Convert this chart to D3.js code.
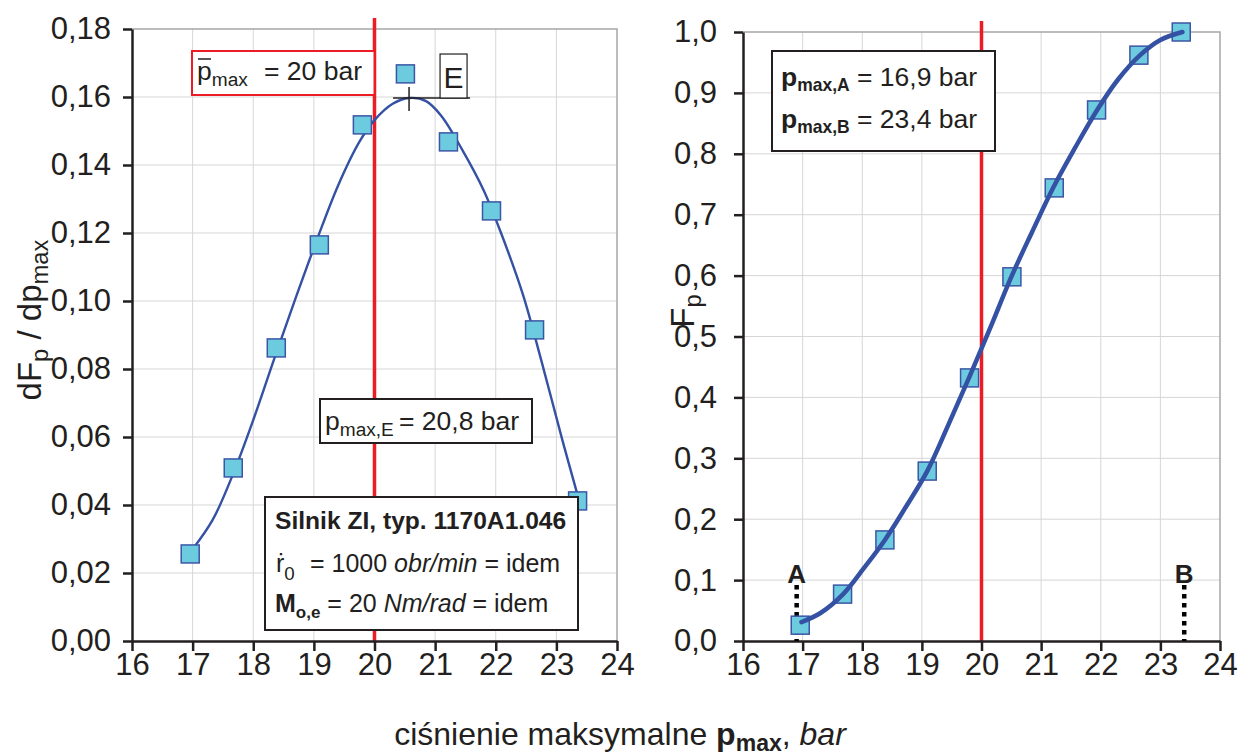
<!DOCTYPE html>
<html>
<head>
<meta charset="utf-8">
<script src="https://cdnjs.cloudflare.com/ajax/libs/d3/7.8.5/d3.min.js"></script>
<style>
  html, body { margin: 0; padding: 0; background: #fff; }
  svg { display: block; font-family: "Liberation Sans", Arial, sans-serif; }
</style>
</head>
<body>
<svg id="chart" width="1239" height="756"></svg>
<script>
// Measured pressure classes (bar), shared by both panels
const pressure = [16.96, 17.67, 18.38, 19.09, 19.8, 20.51, 21.22, 21.93, 22.64, 23.35];

// Left panel: probability density dFp/dpmax
const density = [0.0256, 0.0509, 0.0862, 0.1165, 0.1518, 0.1668, 0.1468, 0.1265, 0.0915, 0.0412];
const densityFitP = [17.0, 17.33, 17.66, 18.0, 18.35, 18.7, 19.05, 19.4, 19.75, 20.0, 20.3, 20.57, 20.85, 21.1, 21.45, 21.8, 22.1, 22.45, 22.75, 23.1, 23.35];
const densityFitV = [0.027, 0.0356, 0.0488, 0.065, 0.0832, 0.1009, 0.118, 0.134, 0.1468, 0.1532, 0.158, 0.1597, 0.1588, 0.1545, 0.1444, 0.1326, 0.1194, 0.1018, 0.0826, 0.059, 0.0429];

// Right panel: cumulative distribution Fp
const cumulative = [0.026, 0.077, 0.166, 0.279, 0.432, 0.598, 0.744, 0.872, 0.962, 1.0];
const cumulativeFitP = [16.98, 17.3, 17.68, 18.03, 18.38, 18.73, 19.09, 19.44, 19.79, 20.15, 20.5, 20.85, 21.2, 21.57, 21.94, 22.29, 22.66, 23.0, 23.37];
const cumulativeFitV = [0.031, 0.046, 0.077, 0.12, 0.166, 0.22, 0.279, 0.354, 0.432, 0.515, 0.598, 0.672, 0.744, 0.81, 0.872, 0.922, 0.962, 0.987, 1.0];

// Tick values
const xTicks = [16, 17, 18, 19, 20, 21, 22, 23, 24];
const yTicksLeft = [0, 0.02, 0.04, 0.06, 0.08, 0.10, 0.12, 0.14, 0.16, 0.18];
const yTicksRight = [0, 0.1, 0.2, 0.3, 0.4, 0.5, 0.6, 0.7, 0.8, 0.9, 1.0];

// Reference values
const pMean = 20;      // mean maximum pressure
const pA = 16.9;       // lower limit
const pB = 23.4;       // upper limit

const svg = d3.select("#chart");
const FONT_TICK = 31;
const FONT_NOTE = 26.5;
const INK = "#231f20";

const comma = fmt => v => d3.format(fmt)(v).replace(".", ",");

// rich text helper: parts = [{t, sub, bold, italic}]
function rich(g, x, y, parts, size, anchor, subScale, subShift) {
  const ss = subScale || 0.68, sh = subShift || 0.28;
  const t = g.append("text").attr("x", x).attr("y", y)
    .attr("font-size", size).attr("fill", INK)
    .attr("text-anchor", anchor || "start");
  let off = 0;
  parts.forEach(p => {
    const target = p.sub ? size * sh : 0;
    const s = t.append("tspan").text(p.t)
      .attr("dy", target - off)
      .attr("font-size", p.sub ? size * ss : size);
    if (p.bold) s.attr("font-weight", "bold");
    if (p.italic) s.attr("font-style", "italic");
    off = target;
  });
  return t;
}

function panel(opts) {
  const { x, y, yTicks, yFmt, yPad } = opts;
  const g = svg.append("g");

  // grid
  g.append("g").selectAll("line").data(xTicks.slice(1, -1)).join("line")
    .attr("x1", d => x(d)).attr("x2", d => x(d))
    .attr("y1", y.range()[0]).attr("y2", y.range()[1])
    .attr("stroke", "#d6d6d6").attr("stroke-width", 1);
  g.append("g").selectAll("line").data(yTicks.slice(1, -1)).join("line")
    .attr("x1", x.range()[0]).attr("x2", x.range()[1])
    .attr("y1", d => y(d)).attr("y2", d => y(d))
    .attr("stroke", "#d6d6d6").attr("stroke-width", 1);
  // plot-area frame (top and right)
  g.append("path")
    .attr("d", `M${x.range()[0]},${y.range()[1]}H${x.range()[1]}V${y.range()[0]}`)
    .attr("fill", "none").attr("stroke", "#a6a6a6").attr("stroke-width", 1.5);

  // mean pressure line
  g.append("line")
    .attr("x1", x(pMean)).attr("x2", x(pMean))
    .attr("y1", y.range()[1] - 11).attr("y2", y.range()[0])
    .attr("stroke", "#ed1c24").attr("stroke-width", 3.5);

  // axes
  const ax = g.append("g").attr("transform", `translate(0,${y.range()[0]})`)
    .call(d3.axisBottom(x).tickValues(xTicks).tickSize(10).tickSizeOuter(0).tickPadding(2).tickFormat(d3.format("d")));
  const ay = g.append("g").attr("transform", `translate(${x.range()[0]},0)`)
    .call(d3.axisLeft(y).tickValues(yTicks).tickSize(9).tickSizeOuter(0).tickPadding(yPad).tickFormat(comma(yFmt)));
  [ax, ay].forEach(a => {
    a.select(".domain").attr("stroke", INK).attr("stroke-width", 2.5);
    a.selectAll(".tick line").attr("stroke", INK).attr("stroke-width", 2.5);
    a.selectAll("text").attr("font-size", FONT_TICK).attr("fill", INK)
      .attr("font-family", "Liberation Sans, Arial, sans-serif");
  });
  ax.selectAll("text").attr("dy", "0.72em");
  return g;
}

function markers(g, x, y, vals) {
  const s = 18;
  g.append("g").selectAll("rect").data(pressure.map((p, i) => [p, vals[i]])).join("rect")
    .attr("x", d => x(d[0]) - s / 2).attr("y", d => y(d[1]) - s / 2)
    .attr("width", s).attr("height", s)
    .attr("fill", "#6ccbde").attr("stroke", "#3b56a6").attr("stroke-width", 1.5);
}

// ---------- left panel ----------
const xL = d3.scaleLinear().domain([16, 24]).range([132, 617]);
const yL = d3.scaleLinear().domain([0, 0.18]).range([641, 29]);
const gL = panel({ x: xL, y: yL, yTicks: yTicksLeft, yFmt: ".2f", yPad: 12 });

const fitL = densityFitP.map((p, i) => [p, densityFitV[i]]);
gL.append("path").datum(fitL)
  .attr("d", d3.line().x(d => xL(d[0])).y(d => yL(d[1])).curve(d3.curveCatmullRom))
  .attr("fill", "none").attr("stroke", "#3451a3").attr("stroke-width", 2.4);
markers(gL, xL, yL, density);

// mean value box (red)
gL.append("rect").attr("x", 192).attr("y", 51).attr("width", xL(pMean) - 192).attr("height", 44)
  .attr("fill", "#fff").attr("stroke", "#ed1c24").attr("stroke-width", 2);
rich(gL, 197, 80, [{ t: "p" }, { t: "max", sub: true }], FONT_NOTE, "start", 0.72, 0.22);
gL.append("text").attr("x", 264).attr("y", 80).attr("font-size", FONT_NOTE).attr("fill", INK)
  .text("= 20 bar");
gL.append("line").attr("x1", 198).attr("x2", 211).attr("y1", 59).attr("y2", 59)
  .attr("stroke", INK).attr("stroke-width", 1.5);

// peak E of the fitted density
const peak = fitL.reduce((a, b) => (b[1] > a[1] ? b : a));
const ex = xL(peak[0]), ey = yL(peak[1]);
gL.append("line").attr("x1", ex - 16).attr("x2", ex + 61).attr("y1", ey).attr("y2", ey)
  .attr("stroke", INK).attr("stroke-width", 1.5);
gL.append("line").attr("x1", ex).attr("x2", ex).attr("y1", ey - 11).attr("y2", ey + 13)
  .attr("stroke", INK).attr("stroke-width", 1.5);
gL.append("rect").attr("x", ex + 31).attr("y", ey - 44).attr("width", 27).attr("height", 44)
  .attr("fill", "#fff").attr("stroke", INK).attr("stroke-width", 1.2);
gL.append("text").attr("x", ex + 44.5).attr("y", ey - 10).attr("text-anchor", "middle")
  .attr("font-size", 30).attr("fill", INK).text("E");

// pmax,E box
gL.append("rect").attr("x", 320).attr("y", 399).attr("width", 212).attr("height", 44)
  .attr("fill", "#fff").attr("stroke", INK).attr("stroke-width", 2);
rich(gL, 325, 430, [{ t: "p" }, { t: "max,E", sub: true }], FONT_NOTE, "start", 0.72, 0.22);
gL.append("text").attr("x", 399).attr("y", 430).attr("font-size", FONT_NOTE).attr("fill", INK)
  .text("= 20,8 bar");

// engine description box
gL.append("rect").attr("x", 265).attr("y", 497).attr("width", 313).attr("height", 133)
  .attr("fill", "#fff").attr("stroke", INK).attr("stroke-width", 2);
rich(gL, 275, 529, [{ t: "Silnik ZI, typ. 1170A1.046", bold: true }], 24.6);
rich(gL, 276, 572, [{ t: "\u1E59" }, { t: "0", sub: true }], 25, "start", 0.75, 0.3);
gL.append("text").attr("x", 310).attr("y", 572).attr("font-size", 25).attr("fill", INK)
  .call(t => {
    t.append("tspan").text("= 1000 ");
    t.append("tspan").attr("font-style", "italic").text("obr/min");
    t.append("tspan").text(" = idem");
  });
rich(gL, 275, 612, [{ t: "M", bold: true }, { t: "o,e", sub: true, bold: true }, { t: " = 20 " }, { t: "Nm/rad", italic: true }, { t: " = idem" }], 25, "start", 0.68, 0.25);

// y title
rich(svg, 0, 0, [{ t: "dF" }, { t: "p", sub: true }, { t: " / dp" }, { t: "max", sub: true }], 33, "middle", 0.72, 0.22)
  .attr("transform", "translate(41,320) rotate(-90)");

// ---------- right panel ----------
const xR = d3.scaleLinear().domain([16, 24]).range([743, 1220]);
const yR = d3.scaleLinear().domain([0, 1]).range([641, 32]);
const gR = panel({ x: xR, y: yR, yTicks: yTicksRight, yFmt: ".1f", yPad: 17 });

// limits A and B
[[pA, "A"], [pB, "B"]].forEach(([p, name]) => {
  gR.append("line").attr("x1", xR(p)).attr("x2", xR(p))
    .attr("y1", yR(0.092)).attr("y2", yR(0))
    .attr("stroke", "#000").attr("stroke-width", 4.5).attr("stroke-dasharray", "4.5,4.5");
  gR.append("text").attr("x", xR(p)).attr("y", yR(0.095)).attr("text-anchor", "middle")
    .attr("font-size", 26).attr("font-weight", "bold").attr("fill", INK).text(name);
});

const fitR = cumulativeFitP.map((p, i) => [p, cumulativeFitV[i]]);
markers(gR, xR, yR, cumulative);
gR.append("path").datum(fitR)
  .attr("d", d3.line().x(d => xR(d[0])).y(d => yR(d[1])).curve(d3.curveCatmullRom))
  .attr("fill", "none").attr("stroke", "#3451a3").attr("stroke-width", 4.5)
  .attr("stroke-linecap", "round");

// limits box
gR.append("rect").attr("x", 772).attr("y", 51).attr("width", 223).attr("height", 100)
  .attr("fill", "#fff").attr("stroke", INK).attr("stroke-width", 2);
[["max,A", "= 16,9 bar", 86], ["max,B", "= 23,4 bar", 128]].forEach(([sub, val, yy]) => {
  rich(gR, 781, yy, [{ t: "p", bold: true }, { t: sub, sub: true, bold: true }], FONT_NOTE, "start", 0.66, 0.2);
  gR.append("text").attr("x", 857).attr("y", yy).attr("font-size", FONT_NOTE).attr("fill", INK).text(val);
});

// y title, between the 0,6 and 0,5 tick labels
rich(svg, 0, 0, [{ t: "F" }, { t: "p", sub: true }], 33, "middle", 0.72, 0.22)
  .attr("transform", "translate(694,311) rotate(-90)");

// shared x title
rich(svg, 620, 745, [{ t: "ciśnienie maksymalne " }, { t: "p", bold: true }, { t: "max", sub: true, bold: true }, { t: ", " }, { t: "bar", italic: true }], 32, "middle", 0.72, 0.18);
</script>
</body>
</html>
